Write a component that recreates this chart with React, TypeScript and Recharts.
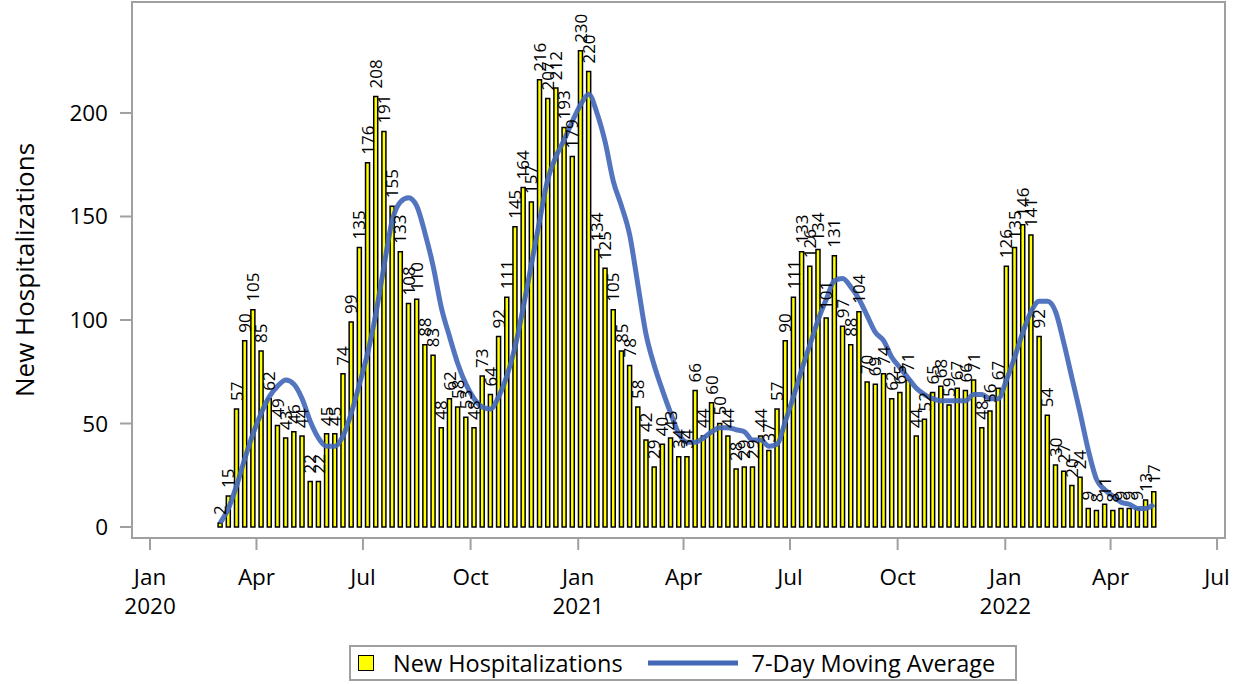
import React from "react";
import {
  ComposedChart,
  Bar,
  Line,
  XAxis,
  YAxis,
  Legend,
  LabelList,
  ReferenceArea,
} from "recharts";

// weekly new hospitalizations, first week starting 2020-03-01
const HOSPITALIZATIONS = [
  2, 15, 57, 90, 105, 85, 62, 49, 43, 46, 44, 22, 22, 45, 45, 74, 99, 135, 176,
  208, 191, 155, 133, 108, 110, 88, 83, 48, 62, 58, 53, 48, 73, 64, 92, 111, 145,
  164, 157, 216, 207, 212, 193, 179, 230, 220, 134, 125, 105, 85, 78, 58, 42, 29,
  40, 43, 34, 34, 66, 44, 60, 50, 44, 28, 29, 29, 44, 37, 57, 90, 111, 133, 126,
  134, 101, 131, 97, 88, 104, 70, 69, 74, 62, 65, 71, 44, 52, 65, 68, 59, 67, 66,
  71, 48, 56, 67, 126, 135, 146, 141, 92, 54, 30, 27, 20, 24, 9, 8, 11, 8, 9, 9,
  9, 13, 17,
];

const MOVING_AVERAGE = [
  2, 9, 20, 33, 45, 55, 63, 68, 71, 69, 62, 51, 43, 39, 39, 44, 55, 69, 84, 103,
  126, 148, 157, 159, 155, 142, 126, 106, 92, 79, 69, 62, 58, 57, 63, 73, 87, 106,
  127, 148, 168, 179, 187, 196, 204, 209, 200, 186, 167, 155, 141, 117, 93, 78,
  66, 55, 45, 41, 41, 43, 46, 48, 48, 47, 46, 42, 42, 39, 40, 51, 63, 76, 88, 100,
  110, 119, 120, 116, 110, 102, 94, 90, 82, 77, 72, 67, 64, 62, 61, 61, 61, 61,
  64, 64, 62, 62, 71, 82, 94, 104, 109, 109, 104, 89, 72, 55, 37, 23, 18, 15, 12,
  11, 9, 9, 11,
];

const DAY = 86400000;
const FIRST_WEEK = Date.UTC(2020, 2, 1);

const X_TICKS = [
  Date.UTC(2020, 0, 1),
  Date.UTC(2020, 3, 1),
  Date.UTC(2020, 6, 1),
  Date.UTC(2020, 9, 1),
  Date.UTC(2021, 0, 1),
  Date.UTC(2021, 3, 1),
  Date.UTC(2021, 6, 1),
  Date.UTC(2021, 9, 1),
  Date.UTC(2022, 0, 1),
  Date.UTC(2022, 3, 1),
  Date.UTC(2022, 6, 1),
];
const MONTHS = ["Jan", "Feb", "Mar", "Apr", "May", "Jun", "Jul", "Aug", "Sep", "Oct", "Nov", "Dec"];
const Y_TICKS = [0, 50, 100, 150, 200];

const X_MIN = Date.UTC(2020, 0, 1) - 15.4 * DAY;
const X_MAX = Date.UTC(2020, 0, 1) + 918.8 * DAY;
const Y_MIN = -5.3;
const Y_MAX = 253.6;

const FONT = "'Open Sans', sans-serif";
const FRAME = "#a0a0a0";
const LINE_BLUE = "#4468b8";

const data = HOSPITALIZATIONS.map((v, i) => ({
  t: FIRST_WEEK + i * 7 * DAY,
  cases: v,
  avg: MOVING_AVERAGE[i],
}));

function MonthTick(props: any) {
  const { x, y, payload } = props;
  const d = new Date(payload.value);
  const month = d.getUTCMonth();
  return (
    <g>
      <text x={x} y={y + 33} textAnchor="middle" fontSize={22.5} fontFamily={FONT} fill="#000">
        {MONTHS[month]}
      </text>
      {month === 0 && (
        <text x={x} y={y + 62} textAnchor="middle" fontSize={22.5} fontFamily={FONT} fill="#000">
          {d.getUTCFullYear()}
        </text>
      )}
    </g>
  );
}

function BarLabel(props: any) {
  const { x, y, width, value } = props;
  const cx = Number(x) + Number(width) / 2;
  const ty = Number(y) - 8;
  return (
    <text
      x={cx}
      y={ty}
      dy="0.36em"
      transform={`rotate(-90 ${cx} ${ty})`}
      textAnchor="start"
      fontSize={17}
      fontFamily={FONT}
      fill="#000"
    >
      {value}
    </text>
  );
}

function YTitle(props: any) {
  const vb = props.viewBox || {};
  const cy = vb.height ? vb.y + vb.height / 2 : 270;
  const cx = 24;
  return (
    <text
      x={cx}
      y={cy}
      transform={`rotate(-90 ${cx} ${cy})`}
      textAnchor="middle"
      dominantBaseline="central"
      fontSize={26}
      fontFamily={FONT}
      fill="#000"
    >
      New Hospitalizations
    </text>
  );
}

function LegendBox() {
  return (
    <div
      style={{
        display: "inline-flex",
        alignItems: "center",
        boxSizing: "border-box",
        height: 36,
        border: `2px solid ${FRAME}`,
        padding: "0 20px 0 7px",
        fontFamily: FONT,
        fontSize: 23.5,
        color: "#000",
        whiteSpace: "nowrap",
        background: "#fff",
      }}
    >
      <span
        style={{
          display: "inline-block",
          width: 16,
          height: 16,
          boxSizing: "border-box",
          background: "#ffff00",
          border: "1px solid #000",
          marginRight: 19,
        }}
      />
      <span>New Hospitalizations</span>
      <svg width={90} height={8} style={{ margin: "0 14px 0 25px" }}>
        <line x1={0} y1={4} x2={90} y2={4} stroke={LINE_BLUE} strokeWidth={5} />
      </svg>
      <span>7-Day Moving Average</span>
    </div>
  );
}

export default function App() {
  return (
    <div style={{ position: "absolute", left: 0, top: 0, background: "#fff" }}>
      <ComposedChart
        width={1248}
        height={684}
        data={data}
        margin={{ top: 2, right: 23, bottom: 3, left: 0 }}
      >
        <ReferenceArea
          x1={X_MIN}
          x2={X_MAX}
          y1={Y_MIN}
          y2={Y_MAX}
          fill="none"
          stroke={FRAME}
          strokeWidth={2}
          ifOverflow="visible"
        />
        <XAxis
          dataKey="t"
          type="number"
          domain={[X_MIN, X_MAX]}
          allowDataOverflow
          ticks={X_TICKS}
          interval={0}
          tick={<MonthTick />}
          tickSize={12}
          tickLine={{ stroke: FRAME, strokeWidth: 2 }}
          axisLine={false}
          height={107}
        />
        <YAxis
          type="number"
          domain={[Y_MIN, Y_MAX]}
          allowDataOverflow
          ticks={Y_TICKS}
          interval={0}
          width={132}
          tickSize={12}
          tickMargin={12}
          tickLine={{ stroke: FRAME, strokeWidth: 2 }}
          axisLine={false}
          tick={{ fontSize: 22.5, fill: "#000", fontFamily: FONT }}
          label={{ content: YTitle }}
        />
        <Bar
          dataKey="cases"
          name="New Hospitalizations"
          fill="#ffff00"
          stroke="#000"
          strokeWidth={1.5}
          barSize={4}
          isAnimationActive={false}
        >
          <LabelList dataKey="cases" content={BarLabel} />
        </Bar>
        <Line
          dataKey="avg"
          name="7-Day Moving Average"
          type="monotone"
          stroke={LINE_BLUE}
          strokeOpacity={0.92}
          strokeWidth={5}
          dot={false}
          activeDot={false}
          isAnimationActive={false}
        />
        <Legend
          verticalAlign="bottom"
          content={<LegendBox />}
          wrapperStyle={{ left: 349, bottom: 3, width: "auto" }}
        />
      </ComposedChart>
    </div>
  );
}
